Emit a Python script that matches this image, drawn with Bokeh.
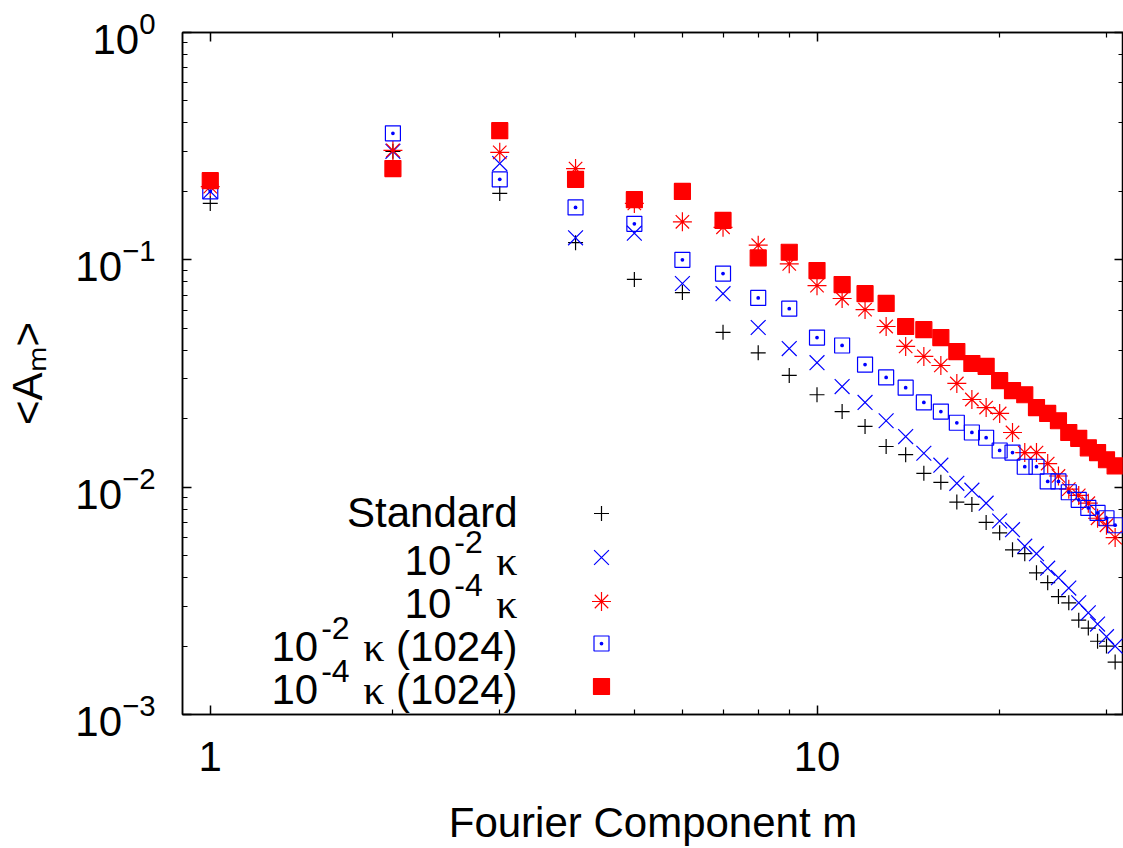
import re
from math import log10
from bokeh.plotting import figure
from bokeh.models import (Range1d, LogAxis, Label, CustomJSTickFormatter,
                          PrintfTickFormatter, ColumnDataSource, FixedTicker, LogTicker)
from bokeh.embed import file_html
from bokeh.resources import INLINE

# ---------------- data ----------------
m = list(range(1, 32))
standard = [0.177, 0.300, 0.196, 0.119, 0.082, 0.0718, 0.048, 0.039, 0.031, 0.0255,
            0.0215, 0.0185, 0.0151, 0.0139, 0.0115, 0.0105, 0.0086, 0.0084, 0.0070, 0.0063,
            0.0053, 0.0051, 0.0042, 0.0038, 0.0033, 0.0031, 0.0026, 0.0024, 0.0021, 0.0020,
            0.0017]
kappa2 = [0.200, 0.300, 0.265, 0.125, 0.131, 0.0787, 0.071, 0.0504, 0.0407, 0.0353,
          0.0277, 0.0236, 0.0196, 0.0167, 0.0141, 0.0125, 0.0104, 0.0097, 0.0085, 0.0071,
          0.0065, 0.0055, 0.0051, 0.0044, 0.0040, 0.0036, 0.0031, 0.0028, 0.0025, 0.0022,
          0.0020]
kappa4 = [0.210, 0.303, 0.297, 0.252, 0.177, 0.147, 0.139, 0.116, 0.096, 0.077,
          0.0676, 0.0604, 0.0509, 0.0416, 0.0376, 0.0343, 0.0286, 0.0243, 0.0224, 0.0211,
          0.0174, 0.0142, 0.0142, 0.0127, 0.0112, 0.0098, 0.0092, 0.0085, 0.0073, 0.0068,
          0.0060]
kappa2_1024 = [0.200, 0.360, 0.226, 0.170, 0.144, 0.100, 0.087, 0.068, 0.061, 0.0455,
               0.042, 0.0346, 0.0304, 0.0274, 0.0236, 0.0215, 0.0192, 0.0174, 0.0165, 0.0145,
               0.0142, 0.0123, 0.0123, 0.0106, 0.0106, 0.0095, 0.0088, 0.0081, 0.0077, 0.0073,
               0.0068]
kappa4_1024 = [0.223, 0.252, 0.370, 0.226, 0.184, 0.200, 0.149, 0.102, 0.108, 0.0897,
               0.0778, 0.071, 0.0643, 0.0509, 0.0493, 0.0455, 0.0395, 0.035, 0.034, 0.0294,
               0.0266, 0.0255, 0.0224, 0.0211, 0.0196, 0.0174, 0.0164, 0.0149, 0.0142, 0.0132,
               0.0124]

series_names = ["Standard", "10^{-2} κ", "10^{-4} κ", "10^{-2} κ (1024)", "10^{-4} κ (1024)"]
x_major_ticks = [1, 10]
x_minor_ticks = [2, 3, 4, 5, 6, 7, 8, 9, 20, 30]
x_tick_labels = {1: "1", 10: "10"}
x_title = "Fourier Component m"
y_title = "<Aₘ>"

# ---------------- layout / style ----------------
X_MIN, X_MAX = 0.9, 32
Y_MIN, Y_MAX = 1e-3, 1
W, H = 1123, 848
FL, FT, FR, FB = 182, 32, 1123, 714
FONT = "Liberation Sans"
GREEK_FONT = "Liberation Serif"
FS, FS_SUP = 42, 32

CW = {**{d: .556 for d in "0123456789"}, "-": .333, " ": .278, "κ": .55,
      "(": .333, ")": .333}


def tw(s, fs):
    return sum(CW.get(c, .556) for c in s) * fs


def pieces(s):
    out = []
    for tok in re.split(r"(\^\{[^}]*\}|κ)", s):
        if not tok:
            continue
        if tok.startswith("^{"):
            out.append((tok[2:-1], "sup"))
        elif tok == "κ":
            out.append((tok, "greek"))
        else:
            out.append((tok, "norm"))
    return out


def x_at(px):
    return 10 ** (log10(X_MIN) + (px - FL) / (FR - FL) * (log10(X_MAX) - log10(X_MIN)))


def y_at(py):
    return 10 ** (log10(Y_MAX) - (py - FT) / (FB - FT) * (log10(Y_MAX) - log10(Y_MIN)))


p = figure(width=W, height=H, x_axis_type="log", y_axis_type="log",
           x_range=Range1d(X_MIN, X_MAX), y_range=Range1d(Y_MIN, Y_MAX),
           output_backend="svg", toolbar_location=None,
           min_border_left=FL, min_border_right=W - FR, min_border_top=FT,
           min_border_bottom=H - FB)
p.grid.visible = False
p.outline_line_color = "black"
p.outline_line_width = 1.5


def style_axis(ax):
    ax.axis_line_color = "black"
    ax.axis_line_width = 1.5
    ax.major_tick_in = 9
    ax.major_tick_out = 0
    ax.minor_tick_in = 5
    ax.minor_tick_out = 0
    ax.major_tick_line_color = "black"
    ax.major_tick_line_width = 1.5
    ax.minor_tick_line_color = "black"
    ax.minor_tick_line_width = 1.2
    ax.major_label_text_font = FONT
    ax.major_label_text_font_size = f"{FS}px"
    ax.major_label_text_color = "black"
    ax.axis_label_text_font = FONT
    ax.axis_label_text_font_size = f"{FS}px"
    ax.axis_label_text_font_style = "normal"
    ax.axis_label_text_color = "black"


x_ticker = FixedTicker(ticks=x_major_ticks, minor_ticks=x_minor_ticks)

for ax in p.xaxis:
    style_axis(ax)
    ax.ticker = x_ticker
    ax.formatter = PrintfTickFormatter(format="%d")
    ax.major_label_overrides = x_tick_labels
    ax.major_label_standoff = 27
    ax.axis_label = x_title
    ax.axis_label_standoff = 25

for ax in p.yaxis:
    style_axis(ax)
    ax.major_label_standoff = 27
    ax.axis_label = y_title
    ax.axis_label_standoff = 21

right_ax = LogAxis(ticker=LogTicker(), formatter=CustomJSTickFormatter(code="return ''"),
                   major_label_standoff=0)
style_axis(right_ax)
p.add_layout(right_ax, "right")
top_ax = LogAxis(ticker=FixedTicker(ticks=x_major_ticks, minor_ticks=x_minor_ticks),
                 formatter=CustomJSTickFormatter(code="return ''"), major_label_standoff=0)
style_axis(top_ax)
p.add_layout(top_ax, "above")


def rich(x, y, xr, yb, s, rise=19):
    """Right-aligned mixed text: pieces drawn right to left."""
    pos = xr
    for txt, kind in reversed(pieces(s)):
        fs = FS_SUP if kind == "sup" else FS
        core = txt.strip()
        if not core:
            pos -= len(txt) * tw(" ", fs)
            continue
        trail = len(txt) - len(txt.rstrip())
        lead = len(txt) - len(txt.lstrip())
        pos -= trail * tw(" ", fs)
        p.add_layout(Label(x=x, y=y, x_offset=pos, y_offset=yb + (rise if kind == "sup" else 0),
                           text=core, text_align="right", text_baseline="alphabetic",
                           text_font=GREEK_FONT if kind == "greek" else FONT,
                           text_font_size=f"{fs}px", text_color="black"))
        pos -= tw(core, fs) + (3 if kind == "sup" else 0)
        pos -= lead * tw(" ", fs)


# data series
src = ColumnDataSource(dict(m=m, standard=standard, kappa2=kappa2, kappa4=kappa4,
                            kappa2_1024=kappa2_1024, kappa4_1024=kappa4_1024))
specs = [
    ("standard", "cross", 15, "black", None),
    ("kappa2", "x", 21, "#0000ff", None),
    ("kappa4", "asterisk", 19, "#ff0000", None),
    ("kappa2_1024", "square_dot", 15, "#0000ff", None),
    ("kappa4_1024", "square", 16, "#ff0000", "#ff0000"),
]
for col, marker, size, color, fill in specs:
    p.scatter("m", col, source=src, marker=marker, size=size, line_color=color,
              fill_color=fill, line_width=1.2)

# legend (text left, marker right, as in the original)
legend_py = [513, 557, 601, 643, 686]
legend_base = [14, 18, 17, 18, 18]
LEG_TEXT_R = 517
LEG_MARK_X = 601
TEXT_SHIFT = 15
for (col, marker, size, color, fill), name, py, bo in zip(specs, series_names, legend_py, legend_base):
    rich(X_MIN, Y_MIN, LEG_TEXT_R - FL, FB - (py + bo) + TEXT_SHIFT, name)
    p.scatter([x_at(LEG_MARK_X)], [y_at(py)], marker=marker, size=size, line_color=color,
              fill_color=fill, line_width=1.2)

open("out.html", "w").write(file_html(p, INLINE))
